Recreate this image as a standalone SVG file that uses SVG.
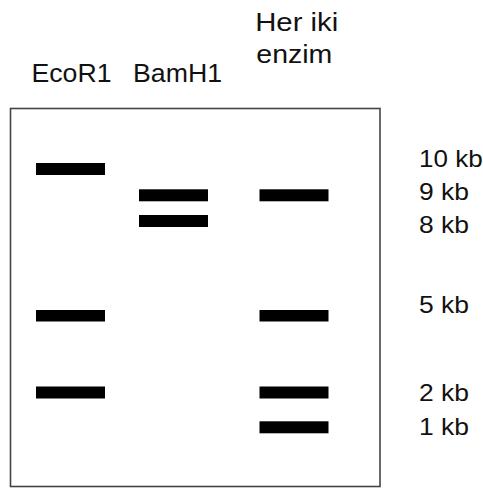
<svg xmlns="http://www.w3.org/2000/svg" width="483" height="489" viewBox="0 0 483 489">
<style>
text{font-family:"Liberation Sans",Arial,sans-serif;font-size:26px;fill:#111}
.band{fill:#000}
.lbl{font-size:24px}
</style>
<rect width="483" height="489" fill="#fff"/>
<g id="gel">
<rect x="10.5" y="108.5" width="369.5" height="378" fill="none" stroke="#444" stroke-width="1.6"/>
</g>
<g id="headers">
<text x="31.5" y="81.5" textLength="80" lengthAdjust="spacingAndGlyphs">EcoR1</text>
<text x="133" y="81.5" textLength="89" lengthAdjust="spacingAndGlyphs">BamH1</text>
<text x="255.2" y="31" textLength="83" lengthAdjust="spacingAndGlyphs">Her iki</text>
<text x="256.3" y="63.3" textLength="76" lengthAdjust="spacingAndGlyphs">enzim</text>
</g>
<g id="lane-ecor1">
<rect class="band" x="36" y="163" width="69" height="12"/>
<rect class="band" x="36" y="310" width="69" height="11.5"/>
<rect class="band" x="36" y="386.5" width="69" height="12"/>
</g>
<g id="lane-bamh1">
<rect class="band" x="139" y="189.3" width="69" height="12"/>
<rect class="band" x="139" y="215" width="69" height="12"/>
</g>
<g id="lane-both">
<rect class="band" x="259.5" y="189.3" width="69" height="12"/>
<rect class="band" x="259.5" y="310" width="69" height="11.5"/>
<rect class="band" x="259.5" y="386.5" width="69" height="12"/>
<rect class="band" x="259.5" y="421.3" width="69" height="12"/>
</g>
<g id="sizes">
<text class="lbl" x="419" y="166.5" textLength="63.6" lengthAdjust="spacingAndGlyphs">10 kb</text>
<text class="lbl" x="419" y="199.5" textLength="50" lengthAdjust="spacingAndGlyphs">9 kb</text>
<text class="lbl" x="419" y="232.5" textLength="50" lengthAdjust="spacingAndGlyphs">8 kb</text>
<text class="lbl" x="419" y="312.5" textLength="50" lengthAdjust="spacingAndGlyphs">5 kb</text>
<text class="lbl" x="419" y="400.5" textLength="50" lengthAdjust="spacingAndGlyphs">2 kb</text>
<text class="lbl" x="419" y="435" textLength="50" lengthAdjust="spacingAndGlyphs">1 kb</text>
</g>
<g id="connectors"></g>
</svg>
